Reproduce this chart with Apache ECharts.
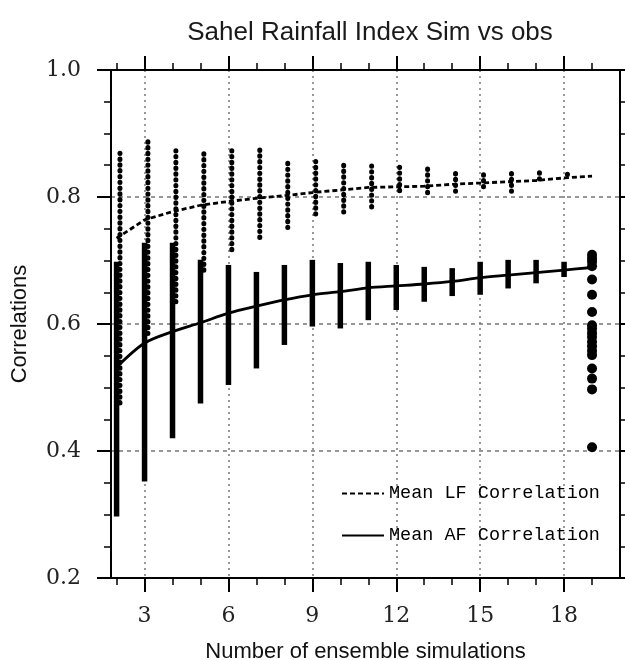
<!DOCTYPE html>
<html>
<head>
  <meta charset="utf-8">
  <title>Sahel Rainfall Index Sim vs obs</title>
  <script src="https://cdn.jsdelivr.net/npm/echarts@6/dist/echarts.min.js"></script>
  <style>
    body { margin: 0; padding: 0; background: #fff; }
    #main { width: 625px; height: 660px; }
  </style>
</head>
<body>
<div id="main"></div>
<script>
// ensemble size for the mean curves
const ensembleSizes = [2, 3, 4, 5, 6, 7, 8, 9, 10, 11, 12, 13, 14, 15, 16, 17, 18, 19];
const lfMean = [0.735, 0.764, 0.777, 0.787, 0.793, 0.798, 0.802, 0.807, 0.811, 0.815, 0.816, 0.817, 0.820, 0.822, 0.824, 0.826, 0.830, 0.833];
const afMean = [0.532, 0.570, 0.588, 0.602, 0.617, 0.628, 0.638, 0.646, 0.651, 0.657, 0.660, 0.663, 0.667, 0.673, 0.677, 0.681, 0.685, 0.689];

// spread of the sub-ensemble correlations, n = 2..18
const spreadSizes = [2, 3, 4, 5, 6, 7, 8, 9, 10, 11, 12, 13, 14, 15, 16, 17, 18];
const lfMax = [0.869, 0.887, 0.873, 0.868, 0.873, 0.874, 0.853, 0.856, 0.850, 0.849, 0.847, 0.844, 0.837, 0.835, 0.837, 0.838, 0.836];
const lfMin = [0.469, 0.583, 0.630, 0.680, 0.709, 0.730, 0.748, 0.773, 0.773, 0.782, 0.803, 0.800, 0.805, 0.814, 0.808, 0.820, 0.828];
const afMax = [0.698, 0.728, 0.728, 0.701, 0.693, 0.682, 0.693, 0.701, 0.696, 0.698, 0.693, 0.690, 0.688, 0.698, 0.701, 0.701, 0.698];
const afMin = [0.297, 0.352, 0.420, 0.475, 0.504, 0.530, 0.567, 0.596, 0.593, 0.606, 0.622, 0.635, 0.644, 0.646, 0.656, 0.664, 0.674];

// single members (n = 19)
const memberSize = 19;
const memberCorr = [0.709, 0.703, 0.698, 0.691, 0.670, 0.646, 0.619, 0.598, 0.593, 0.586, 0.580, 0.572, 0.565, 0.558, 0.551, 0.530, 0.514, 0.497, 0.406];

// axes
const xMajorTicks = [3, 6, 9, 12, 15, 18];
const xMinorTicks = [2, 3, 4, 5, 6, 7, 8, 9, 10, 11, 12, 13, 14, 15, 16, 17, 18, 19];

const LF_SHIFT = 0.12;

const chart = echarts.init(document.getElementById('main'));

function rangeItem(shift, dotted) {
  return function (params, api) {
    const x = api.value(0) + shift;
    const top = api.coord([x, api.value(2)]);
    const bot = api.coord([x, api.value(1)]);
    return {
      type: 'line',
      shape: { x1: top[0], y1: top[1], x2: bot[0], y2: bot[1] },
      style: dotted
        ? { stroke: '#000', lineWidth: 5, lineCap: 'round', lineDash: [0.4, 5.4] }
        : { stroke: '#000', lineWidth: 5.5, lineCap: 'butt' }
    };
  };
}

const frameLine = { show: true, lineStyle: { color: '#000', width: 2 } };
const gridLine = (t) => ({ show: true, lineStyle: { color: '#777', width: 1.5, type: t } });

const xBase = { type: 'value', min: 1.8, max: 20, gridIndex: 0 };

const option = {
  backgroundColor: '#fff',
  animation: false,
  title: {
    text: 'Sahel Rainfall Index Sim vs obs',
    left: 365, top: 15, textAlign: 'center',
    textStyle: { fontFamily: 'Liberation Sans', fontSize: 26, fontWeight: 'normal', color: '#1a1a1a' }
  },
  grid: { left: 111, right: 5, top: 70, bottom: 82, outerBoundsMode: 'none', containLabel: false },
  legend: {
    left: 336, top: 479, orient: 'vertical',
    itemWidth: 42, itemHeight: 14, itemGap: 23,
    itemStyle: { opacity: 0 },
    data: ['Mean LF Correlation', 'Mean AF Correlation'],
    textStyle: { fontFamily: 'Liberation Mono', fontSize: 18.5, color: '#000', lineHeight: 14 }
  },
  xAxis: [
    Object.assign({}, xBase, {
      position: 'bottom',
      name: 'Number of ensemble simulations', nameLocation: 'middle', nameGap: 63,
      nameTextStyle: { fontFamily: 'Liberation Sans', fontSize: 22, color: '#111' },
      axisLine: frameLine,
      axisTick: { show: true, length: 14, lineStyle: { color: '#000', width: 2 }, customValues: xMajorTicks },
      axisLabel: { customValues: xMajorTicks, fontFamily: 'DejaVu Serif', fontSize: 22, color: '#222', margin: 27 },
      splitLine: gridLine([2, 4])
    }),
    Object.assign({}, xBase, {
      position: 'bottom',
      axisLine: { show: false },
      axisTick: { show: true, length: 7, lineStyle: { color: '#000', width: 1.5 }, customValues: xMinorTicks },
      axisLabel: { show: false },
      splitLine: { show: false }
    }),
    Object.assign({}, xBase, {
      position: 'top',
      axisLine: frameLine,
      axisTick: { show: true, length: 14, lineStyle: { color: '#000', width: 2 }, customValues: xMajorTicks },
      axisLabel: { show: false },
      splitLine: { show: false }
    }),
    Object.assign({}, xBase, {
      position: 'top',
      axisLine: { show: false },
      axisTick: { show: true, length: 7, lineStyle: { color: '#000', width: 1.5 }, customValues: xMinorTicks },
      axisLabel: { show: false },
      splitLine: { show: false }
    })
  ],
  yAxis: [
    {
      type: 'value', min: 0.2, max: 1.0, interval: 0.2, position: 'left',
      name: 'Correlations', nameLocation: 'middle', nameGap: 80,
      nameTextStyle: { fontFamily: 'Liberation Sans', fontSize: 22, color: '#111' },
      axisLine: frameLine,
      axisTick: { show: true, length: 14, lineStyle: { color: '#000', width: 2 } },
      minorTick: { show: true, splitNumber: 4, length: 7, lineStyle: { color: '#000', width: 1.5 } },
      axisLabel: { fontFamily: 'DejaVu Serif', fontSize: 22, color: '#222', margin: 30, formatter: (v) => v.toFixed(1) },
      splitLine: gridLine([4, 4])
    },
    {
      type: 'value', min: 0.2, max: 1.0, interval: 0.2, position: 'right',
      axisLine: frameLine,
      axisTick: { show: true, length: 14, lineStyle: { color: '#000', width: 2 } },
      minorTick: { show: true, splitNumber: 4, length: 7, lineStyle: { color: '#000', width: 1.5 } },
      axisLabel: { show: false },
      splitLine: { show: false }
    }
  ],
  series: [
    {
      name: 'AF spread', type: 'custom', renderItem: rangeItem(0, false),
      encode: { x: 0, y: [1, 2] }, z: 3, silent: true,
      data: spreadSizes.map((n, i) => [n, afMin[i], afMax[i]])
    },
    {
      name: 'LF spread', type: 'custom', renderItem: rangeItem(LF_SHIFT, true),
      encode: { x: 0, y: [1, 2] }, z: 3, silent: true,
      data: spreadSizes.map((n, i) => [n, lfMin[i], lfMax[i]])
    },
    {
      name: 'Mean LF Correlation', type: 'line', symbol: 'none', z: 4,
      lineStyle: { color: '#000', width: 2.8, type: [5, 3] },
      itemStyle: { color: '#000' },
      data: ensembleSizes.map((n, i) => [n, lfMean[i]])
    },
    {
      name: 'Mean AF Correlation', type: 'line', symbol: 'none', smooth: 0.3, z: 4,
      lineStyle: { color: '#000', width: 2.8 },
      itemStyle: { color: '#000' },
      data: ensembleSizes.map((n, i) => [n, afMean[i]])
    },
    {
      name: 'Members', type: 'scatter', symbol: 'circle', symbolSize: 10, z: 5,
      itemStyle: { color: '#000', opacity: 1 },
      data: memberCorr.map((v) => [memberSize, v])
    }
  ]
};

chart.setOption(option);
</script>
</body>
</html>
